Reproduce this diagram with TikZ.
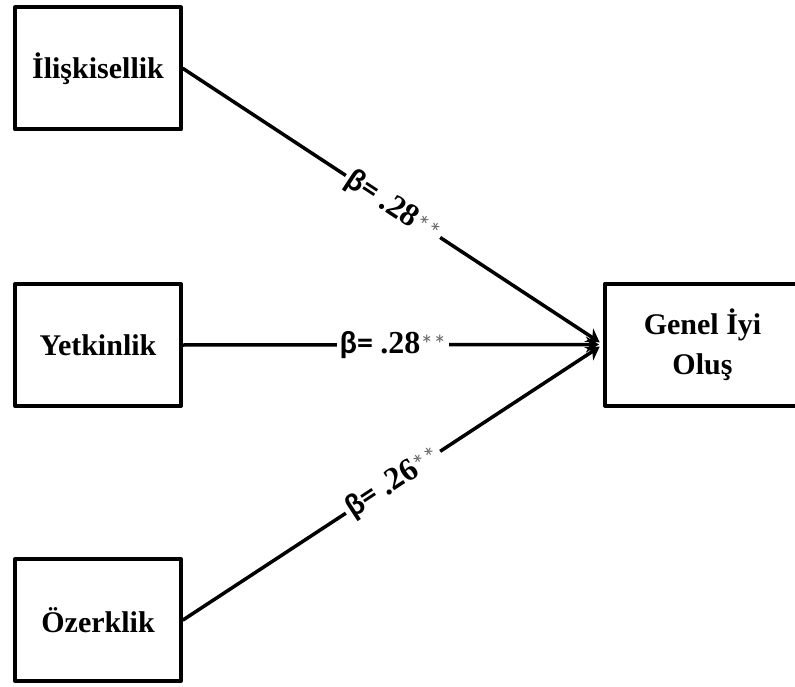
\documentclass[tikz,border=0pt]{standalone}
\usepackage{fontspec}
\setmainfont{Liberation Serif}
\newfontfamily\betafont{Carlito}
\usetikzlibrary{arrows.meta}

\newcommand{\yildiz}{{\color{black!60}\fontsize{26}{28}\selectfont\mdseries **}}

\begin{document}
\begin{tikzpicture}[x=1pt,y=-1pt,>={Stealth[length=13pt,width=16pt]},line cap=round,line join=round,
  kutu/.style={draw,line width=4pt,minimum width=166pt,minimum height=122pt,inner sep=0pt,align=center,font=\fontsize{30}{40}\selectfont\bfseries},
  ok/.style={->,line width=3.5pt,shorten >=4pt},
  beta/.style={fill=white,inner sep=3pt,font=\betafont\fontsize{32}{34}\selectfont\bfseries}]
\useasboundingbox (0,0) rectangle (795,687);
\node[kutu] (ilis) at (98,68.5) {İlişkisellik};
\node[kutu] (yetk) at (98,345) {Yetkinlik};
\node[kutu] (ozer) at (98,620) {Özerklik};
\node[kutu,minimum width=195pt] (genel) at (702.5,344.5) {Genel İyi\\Oluş};
\draw[ok] (ilis.east) -- node[beta,sloped] {β= {\rmfamily .28}\yildiz} (genel.west);
\draw[ok] (yetk.east) -- node[beta] {β= {\rmfamily .28}\yildiz} (genel.west);
\draw[ok] (ozer.east) -- node[beta,sloped] {β= {\rmfamily .26}\yildiz} (genel.west);
\end{tikzpicture}
\end{document}
